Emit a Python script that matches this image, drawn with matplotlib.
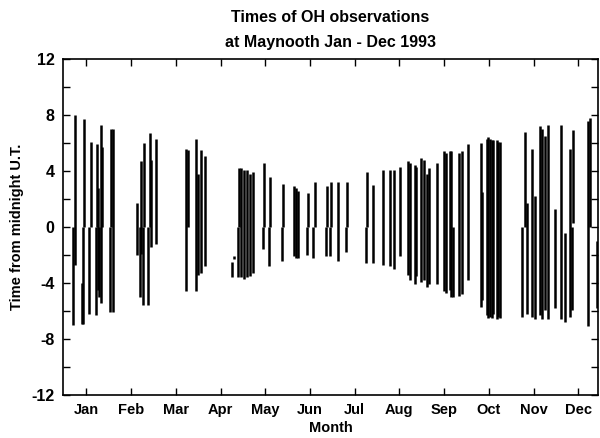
import matplotlib
matplotlib.use("Agg")
import matplotlib.pyplot as plt

plt.rcParams['font.family'] = ['Liberation Sans', 'DejaVu Sans']
plt.rcParams['axes.unicode_minus'] = False

# Observation segments: day of year, upper time (h), lower time (h) from midnight UT
day = [6.6, 8.0, 12.8, 13.4, 14.5, 17.9, 18.9, 22.5, 23.0, 23.9, 24.8, 25.7, 26.8, 32.1, 32.5, 33.9,
       50.5, 52.5, 53.4, 54.8, 55.3, 58.0, 59.3, 60.2, 63.4,
       84.1, 85.3, 90.9, 92.1, 94.3, 96.7,
       115.1, 116.8, 119.2, 119.8, 121.4, 123.5, 125.5, 127.6, 129.4,
       136.2, 137.3, 140.7, 141.5, 149.5, 150.2, 157.9, 159.3, 160.3,
       166.2, 167.1, 170.5, 171.7, 179.2, 179.9, 182.3, 183.0, 187.8, 193.2, 193.9,
       206.8, 207.2, 211.7, 218.1, 223.3, 225.6, 230.1, 235.3, 236.9, 239.9, 241.0,
       244.4, 246.0, 248.3, 249.9, 255.1, 259.7, 261.3, 264.2,
       264.7, 266.2, 270.3, 272.0, 276.5, 284.9, 285.6, 289.0, 290.2, 291.3, 292.4, 293.5,
       295.8, 297.0, 298.1,
       312.9, 315.1, 316.3, 319.7, 322.0, 325.4, 327.0, 328.8, 331.0, 335.6, 339.5,
       342.4, 345.8, 347.0, 348.1, 358.3, 359.5, 364.5]
top = [0, 8.0, -4.0, 0, 7.7, 0, 6.1, 0, 5.9, 2.8, 0, 7.3, 5.7, 0, 7.0, 7.0,
       1.7, 0, 4.7, 0, 6.0, 0, 6.7, 4.8, 6.3,
       5.6, 5.5, 6.3, 3.8, 5.5, 5.1,
       -2.5, -2.1, 0, 4.2, 4.2, 4.1, 4.1, 3.8, 3.9,
       0, 4.6, 0, 3.6, 0, 3.1, 2.9, 2.8, 2.6,
       0, 2.4, 0, 3.2, 0, 2.9, 0, 3.2, 3.2, 0, 3.2,
       0, 3.9, 3.0, 4.1, 4.1, 4.1, 4.3, 4.7, 4.6, 4.4, 4.3,
       4.9, 4.8, 3.8, 4.2, 4.6, 5.4, 5.3, 5.4,
       5.4, 0, 5.3, 5.4, 5.9, 6.0, 2.5, 6.3, 6.4, 6.3, 6.2, 6.2,
       6.2, 6.1, 6.1,
       0, 6.8, 1.7, 5.6, 2.2, 7.2, 7.0, 6.5, 7.3, 1.3, 7.3,
       -0.4, 5.6, 0, 6.9, 7.6, 7.8, -1.0]
bottom = [-7.0, -2.7, -6.9, -6.9, 0, -6.2, 0, -6.3, 0, -4.5, -5.0, -5.4, 0, -6.1, 0, -6.1,
          -2.0, -5.0, -1.9, -5.6, 0, -5.6, 0, -1.4, -1.2,
          -4.6, 0, -4.6, -3.4, -3.3, -2.8,
          -3.6, -2.3, -3.6, 0, -3.6, -3.7, -3.6, -3.5, -3.3,
          -1.6, 0, -2.8, 0, -2.4, 0, -2.1, -2.2, -2.2,
          -2.0, 0, -2.2, 0, -2.1, 0, -2.1, 0, -2.4, -1.8, 0,
          -2.6, 0, -2.6, -2.7, -2.8, -3.0, -2.1, -3.4, -3.8, -4.1, -3.5,
          -3.9, -3.8, -4.3, -4.1, -4.1, -4.6, -4.7, -4.5,
          -5.0, -5.0, -4.9, -4.8, -3.8, -5.7, -5.2, -6.3, -6.5, -6.4, -6.5, -6.2,
          -6.6, -6.4, -6.5,
          -6.4, 0, -6.2, -6.4, -6.6, -6.3, -6.6, -5.9, -6.6, -5.8, -6.6,
          -6.8, -6.4, -5.9, 0.3, -7.1, 0, -5.8]

months = ['Jan', 'Feb', 'Mar', 'Apr', 'May', 'Jun', 'Jul', 'Aug', 'Sep', 'Oct', 'Nov', 'Dec']
month_pos = [16 + 30.5 * i for i in range(12)]
yticks_major = [-12, -8, -4, 0, 4, 8, 12]

fig = plt.figure(figsize=(6.0, 4.38), dpi=100)
ax = fig.add_axes([63 / 600, 1 - 395 / 438, (598 - 63) / 600, (395 - 59) / 438])

ax.vlines(day, bottom, top, colors='black', linewidth=1.8)

ax.set_xlim(0, 365)
ax.set_ylim(-12, 12)
ax.set_xticks(month_pos)
ax.set_xticklabels(months, fontsize=10.5, fontweight='bold')
ax.set_yticks(yticks_major)
ax.set_yticklabels([str(v) for v in yticks_major], fontsize=11.5, fontweight='bold')
ax.set_yticks(list(range(-10, 12, 4)), minor=True)
ax.tick_params(axis='both', which='both', direction='in', top=True, right=True, width=1.0)
ax.tick_params(axis='x', which='major', length=5, pad=6)
ax.tick_params(axis='y', which='major', length=5, pad=6)
ax.tick_params(axis='y', which='minor', length=5)
for s in ax.spines.values():
    s.set_linewidth(1.2)

ax.set_xlabel('Month', fontsize=10.5, fontweight='bold', labelpad=3)
ax.set_ylabel('Time from midnight U.T.', fontsize=10.5, fontweight='bold', labelpad=5)
fig.text(0.551, 0.960, 'Times of OH observations', ha='center', va='center',
         fontsize=11.5, fontweight='bold')
fig.text(0.551, 0.902, 'at Maynooth Jan - Dec 1993', ha='center', va='center',
         fontsize=11.5, fontweight='bold')

fig.savefig('out.png', dpi=100)
